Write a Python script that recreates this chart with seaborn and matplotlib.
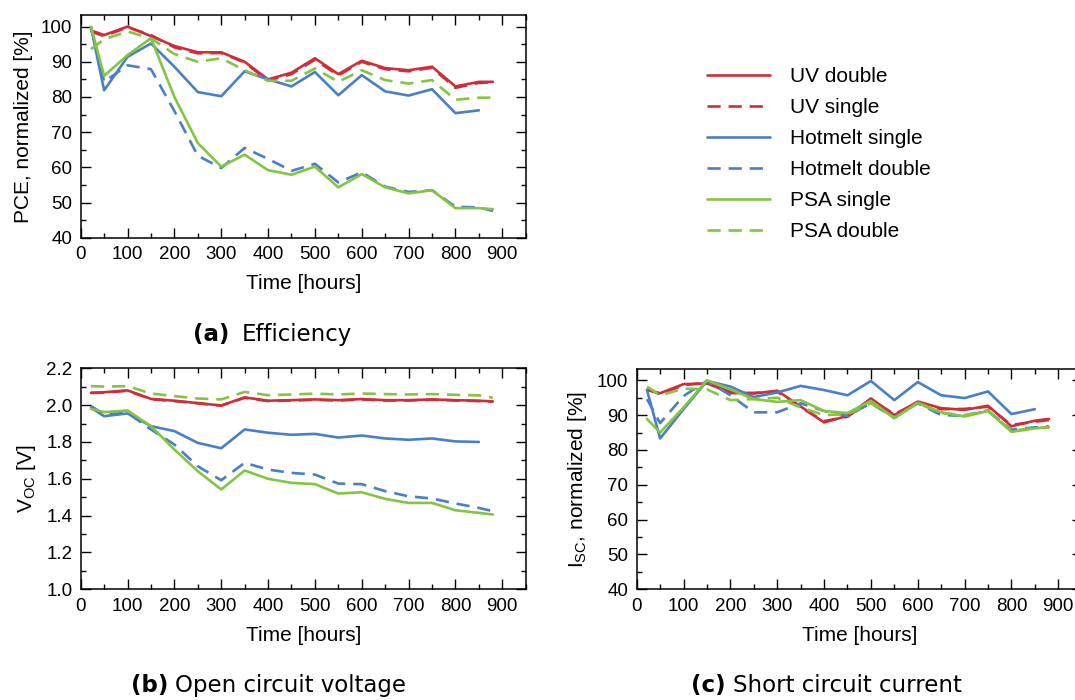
import matplotlib
matplotlib.use("Agg")
import matplotlib.pyplot as plt
from matplotlib.ticker import MultipleLocator
import pandas as pd
import seaborn as sns

# Measurement times [hours]
hours = [22, 50, 100, 150, 200, 250, 300, 350, 400, 450, 500, 550, 600, 650, 700, 750, 800, 850, 880]
hours_hm_single = hours[:-1]

series_names = ["UV double", "UV single", "Hotmelt single", "Hotmelt double", "PSA single", "PSA double"]
series_colors = ["#cf2d3a", "#cf2d3a", "#4a7ec6", "#4a7ec6", "#84c443", "#84c443"]
series_dashed = [False, True, False, True, False, True]

# Normalized PCE [%]
pce_uv_double = [98.9, 97.6, 100.0, 97.3, 94.5, 92.7, 92.7, 90.0, 85.0, 86.9, 91.0, 86.5, 90.3, 88.2, 87.6, 88.6, 83.0, 84.3, 84.3]
pce_uv_single = [98.6, 97.3, 99.8, 97.6, 94.1, 92.4, 92.5, 89.8, 84.6, 86.5, 90.6, 86.1, 90.0, 87.9, 87.3, 88.3, 82.6, 84.0, 84.1]
pce_hm_single = [99.8, 81.9, 91.4, 95.2, 88.6, 81.4, 80.2, 87.3, 85.0, 83.0, 87.1, 80.5, 86.2, 81.6, 80.4, 82.2, 75.4, 76.2]
pce_hm_double = [100.0, 84.3, 89.0, 87.9, 76.0, 63.3, 59.8, 65.5, 62.4, 59.0, 61.0, 55.7, 58.6, 54.5, 53.0, 53.5, 48.8, 48.6, 47.6]
pce_psa_single = [100.0, 86.0, 91.9, 96.7, 80.0, 66.9, 60.2, 63.6, 59.2, 57.9, 60.2, 54.3, 58.1, 54.3, 52.6, 53.5, 48.4, 48.4, 48.1]
pce_psa_double = [93.6, 96.4, 98.6, 96.7, 92.2, 90.0, 91.0, 87.6, 84.6, 84.6, 88.1, 84.3, 87.6, 84.8, 83.8, 84.8, 79.2, 79.8, 79.8]

# Open circuit voltage [V]
voc_uv_double = [2.067, 2.070, 2.080, 2.034, 2.024, 2.011, 1.998, 2.042, 2.024, 2.027, 2.031, 2.027, 2.033, 2.027, 2.027, 2.031, 2.027, 2.024, 2.020]
voc_uv_single = [2.066, 2.068, 2.078, 2.032, 2.022, 2.010, 1.997, 2.040, 2.022, 2.025, 2.029, 2.025, 2.031, 2.025, 2.025, 2.029, 2.025, 2.022, 2.018]
voc_hm_single = [1.986, 1.940, 1.955, 1.886, 1.859, 1.795, 1.766, 1.868, 1.850, 1.839, 1.844, 1.824, 1.835, 1.819, 1.812, 1.819, 1.803, 1.800]
voc_hm_double = [1.995, 1.950, 1.958, 1.868, 1.786, 1.668, 1.592, 1.687, 1.650, 1.632, 1.623, 1.574, 1.571, 1.533, 1.505, 1.493, 1.466, 1.442, 1.424]
voc_psa_single = [1.980, 1.962, 1.971, 1.886, 1.759, 1.641, 1.542, 1.645, 1.600, 1.578, 1.571, 1.520, 1.527, 1.491, 1.469, 1.469, 1.429, 1.415, 1.406]
voc_psa_double = [2.103, 2.101, 2.103, 2.063, 2.049, 2.036, 2.031, 2.072, 2.054, 2.058, 2.062, 2.058, 2.063, 2.060, 2.058, 2.060, 2.056, 2.053, 2.040]

# Normalized short circuit current [%]
isc_uv_double = [97.2, 96.3, 98.9, 99.1, 96.7, 96.2, 97.0, 92.5, 87.9, 89.8, 94.8, 90.0, 93.9, 92.0, 91.5, 92.7, 86.8, 88.4, 88.9]
isc_uv_single = [97.5, 96.0, 98.6, 99.3, 96.3, 96.4, 96.7, 92.2, 88.3, 89.5, 94.4, 90.3, 93.6, 91.7, 91.8, 92.4, 87.2, 88.1, 88.6]
isc_hm_single = [97.2, 83.3, 91.7, 99.8, 98.2, 95.2, 96.5, 98.4, 97.2, 95.7, 99.8, 94.3, 99.5, 95.7, 94.9, 96.8, 90.3, 91.7]
isc_hm_double = [94.6, 87.7, 95.5, 99.8, 95.7, 90.8, 90.8, 93.4, 91.2, 89.8, 93.4, 89.3, 93.4, 90.0, 89.8, 91.2, 85.8, 86.5, 86.8]
isc_psa_single = [88.9, 85.0, 92.2, 100.0, 97.4, 94.6, 93.8, 94.3, 91.2, 90.6, 94.1, 89.1, 93.6, 90.8, 89.6, 91.2, 85.2, 86.2, 86.5]
isc_psa_double = [98.2, 95.7, 97.6, 97.4, 94.3, 94.6, 95.0, 92.2, 90.0, 90.3, 93.4, 89.3, 93.4, 90.6, 90.0, 91.4, 85.5, 86.3, 86.5]

x_ticks = [0, 100, 200, 300, 400, 500, 600, 700, 800, 900]


def long_frame(uv_d, uv_s, hm_s, hm_d, psa_s, psa_d):
    cols = [uv_d, uv_s, hm_s, hm_d, psa_s, psa_d]
    rows = []
    for name, vals in zip(series_names, cols):
        t = hours_hm_single if name == "Hotmelt single" else hours
        for h, v in zip(t, vals):
            rows.append({"hours": h, "value": v, "series": name})
    return pd.DataFrame(rows)


df_pce = long_frame(pce_uv_double, pce_uv_single, pce_hm_single, pce_hm_double, pce_psa_single, pce_psa_double)
df_voc = long_frame(voc_uv_double, voc_uv_single, voc_hm_single, voc_hm_double, voc_psa_single, voc_psa_double)
df_isc = long_frame(isc_uv_double, isc_uv_single, isc_hm_single, isc_hm_double, isc_psa_single, isc_psa_double)

sns.set_theme(style="ticks")
plt.rcParams["font.family"] = ["Liberation Sans", "DejaVu Sans"]
plt.rcParams["mathtext.default"] = "regular"
for key in ("text.color", "axes.labelcolor", "xtick.color", "ytick.color", "axes.edgecolor"):
    plt.rcParams[key] = "black"

W, H = 1075, 700
fig = plt.figure(figsize=(W / 100, H / 100), dpi=100)


def rect(l, t, r, b):
    return [l / W, 1 - b / H, (r - l) / W, (b - t) / H]


palette = dict(zip(series_names, series_colors))
dashes = {n: ((5, 3) if d else "") for n, d in zip(series_names, series_dashed)}


def panel(pos, df, ylim, ymajor, yminor, ylabel, yfmt=None):
    ax = fig.add_axes(rect(*pos))
    sns.lineplot(data=df, x="hours", y="value", hue="series", style="series",
                 hue_order=series_names, style_order=series_names,
                 palette=palette, dashes=dashes, linewidth=1.9, ax=ax,
                 legend=True, sort=False)
    ax.set_xlim(0, 950)
    ax.set_ylim(*ylim)
    ax.set_xticks(x_ticks)
    ax.xaxis.set_minor_locator(MultipleLocator(50))
    ax.yaxis.set_major_locator(MultipleLocator(ymajor))
    ax.yaxis.set_minor_locator(MultipleLocator(yminor))
    if yfmt:
        ax.yaxis.set_major_formatter(yfmt)
    ax.tick_params(which="both", direction="in", top=True, right=True, colors="black", width=1.0)
    ax.tick_params(which="major", length=7, labelsize=13.5)
    ax.tick_params(axis="x", which="major", pad=6)
    ax.tick_params(axis="y", which="major", pad=6)
    ax.tick_params(which="minor", length=3.5)
    for s in ax.spines.values():
        s.set_color("black")
        s.set_linewidth(1.1)
    ax.set_xlabel("Time [hours]", fontsize=15, labelpad=8)
    ax.set_ylabel(ylabel, fontsize=15, labelpad=6)
    return ax


ax_a = panel((80.7, 15, 525.7, 237.7), df_pce, (40, 103.3), 10, 5, "PCE, normalized [%]")
ax_b = panel((80.7, 368.3, 525.7, 589.3), df_voc, (1.0, 2.2), 0.2, 0.1, r"V$_{OC}$ [V]",
             yfmt=matplotlib.ticker.FormatStrFormatter("%.1f"))
ax_c = panel((636.7, 368.8, 1081.7, 589.3), df_isc, (40, 103.3), 10, 5, r"I$_{SC}$, normalized [%]")

handles, labels = ax_a.get_legend_handles_labels()
for ax in (ax_a, ax_b, ax_c):
    ax.get_legend().remove()

fig.legend(handles, labels, loc="upper left", bbox_to_anchor=(707 / W, 1 - 67 / H),
           frameon=False, fontsize=15, handlelength=3.0, handletextpad=1.0,
           labelspacing=0.58, borderpad=0, borderaxespad=0)

cap_kw = dict(fontsize=16.5, family="DejaVu Sans", va="baseline", ha="left", color="black")
for (xb, xt, yb, tag, text) in [(193, 242, 341.5, "(a)", "Efficiency"),
                                (131, 175, 692, "(b)", "Open circuit voltage"),
                                (691, 733, 692, "(c)", "Short circuit current")]:
    fig.text(xb / W, 1 - yb / H, tag, weight="bold", **cap_kw)
    fig.text(xt / W, 1 - yb / H, text, **cap_kw)

fig.savefig("out.png", dpi=100)
